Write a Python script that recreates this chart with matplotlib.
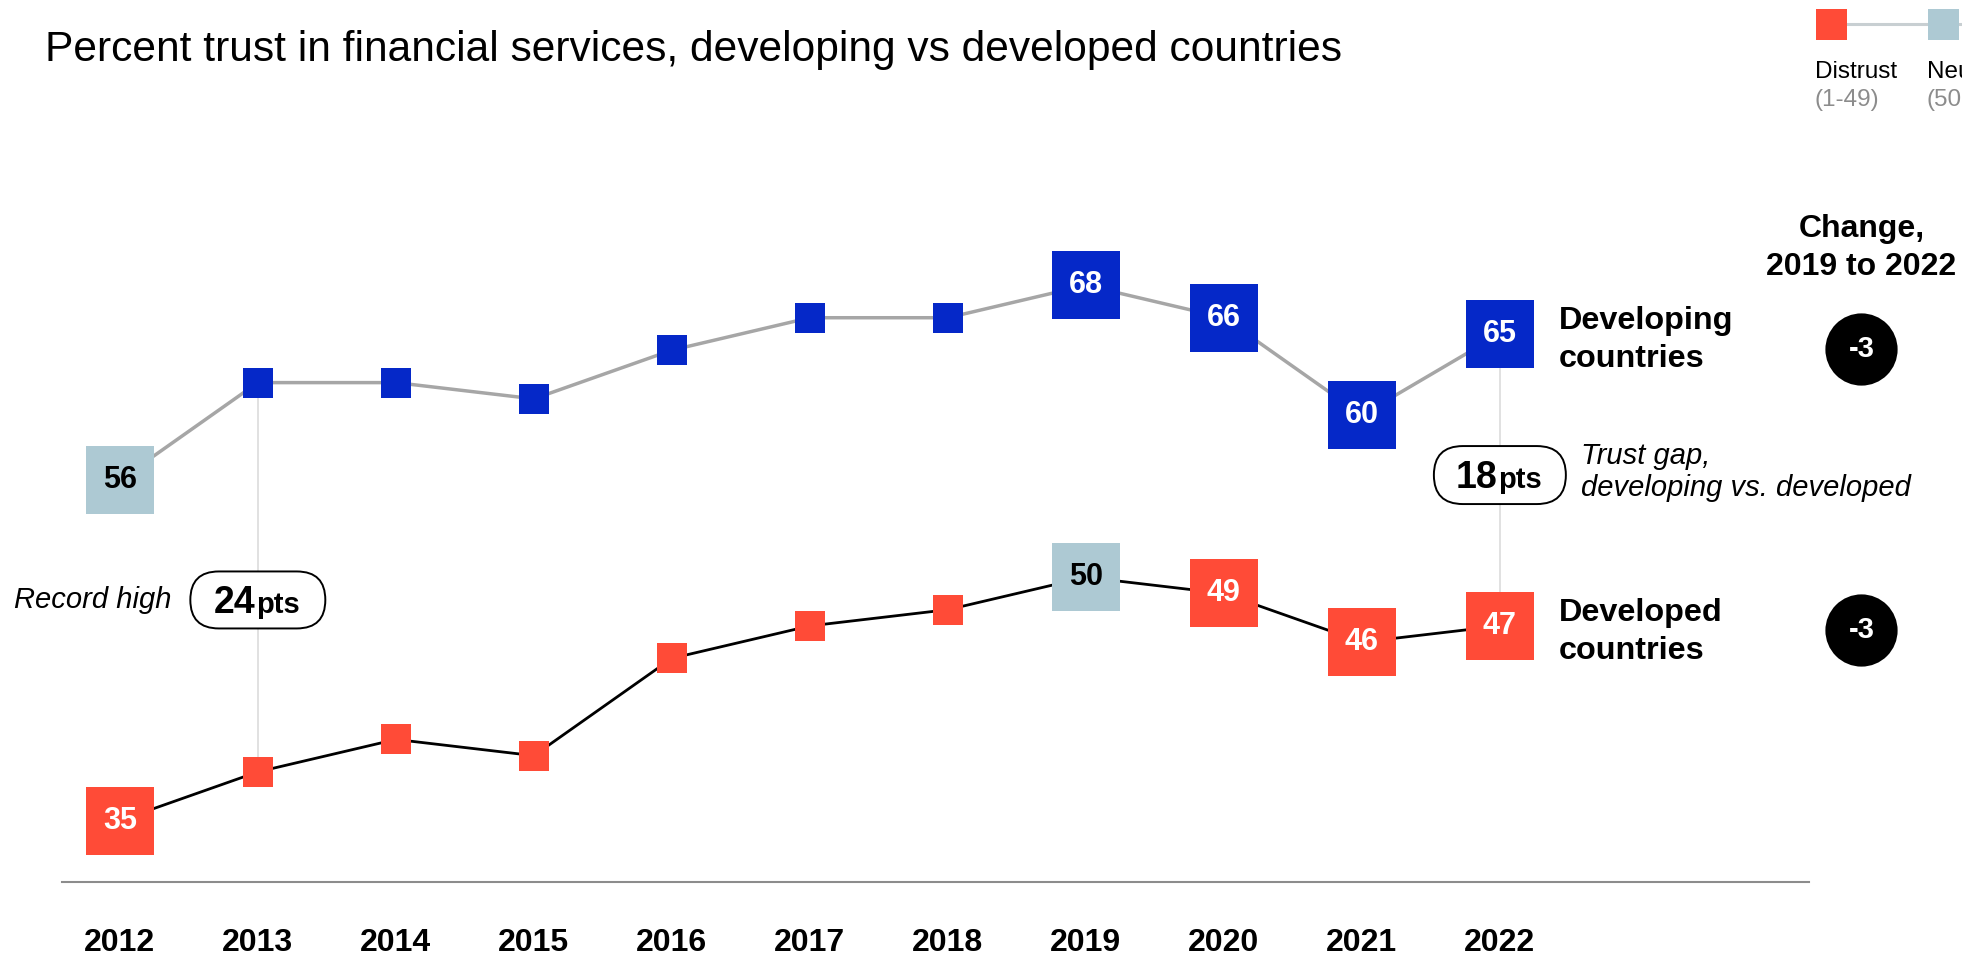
import matplotlib.pyplot as plt
from matplotlib.patches import FancyBboxPatch
from matplotlib.transforms import ScaledTranslation

plt.rcParams["font.family"] = ["Liberation Sans", "DejaVu Sans"]

# --- data -----------------------------------------------------------------
years = [2012, 2013, 2014, 2015, 2016, 2017, 2018, 2019, 2020, 2021, 2022]
developing = [56, 62, 62, 61, 64, 66, 66, 68, 66, 60, 65]
developed = [35, 38, 40, 39, 45, 47, 48, 50, 49, 46, 47]
labeled_years = [2012, 2019, 2020, 2021, 2022]
gap_years = [2013, 2022]
gap_notes = ["Record high", "Trust gap,\ndeveloping vs. developed"]
series_names = ["Developing\ncountries", "Developed\ncountries"]
change_from, change_to = 2019, 2022
legend_labels = ["Distrust", "Neutral"]
legend_ranges = ["(1-49)", "(50-59)"]
title = "Percent trust in financial services, developing vs developed countries"

DISTRUST = "#ff4b37"
NEUTRAL = "#adc9d3"
TRUST = "#0528c8"

W, H, DPI = 1962, 957, 100


def band_color(v):
    if v < 50:
        return DISTRUST
    if v < 60:
        return NEUTRAL
    return TRUST


def pill(fig, ax, x, y, big, small, w, h):
    trans = fig.dpi_scale_trans + ScaledTranslation(x, y, ax.transData)
    box = FancyBboxPatch(
        (-w / 2 / DPI, -h / 2 / DPI), w / DPI, h / DPI,
        boxstyle="round,pad=0,rounding_size={}".format(h / 2 / DPI),
        transform=trans, facecolor="white", edgecolor="black",
        linewidth=1.4, zorder=5, clip_on=False,
    )
    ax.add_patch(box)
    ax.annotate(big, (x, y), xytext=(-2, -13), textcoords="offset pixels",
                ha="right", va="baseline", fontsize=27, fontweight="bold",
                zorder=6, annotation_clip=False)
    ax.annotate(small, (x, y), xytext=(-2, -13), textcoords="offset pixels",
                ha="left", va="baseline", fontsize=21, fontweight="bold",
                zorder=6, annotation_clip=False)


fig = plt.figure(figsize=(W / DPI, H / DPI), dpi=DPI)

# overlay in pixel coords for title and legend
ov = fig.add_axes([0, 0, 1, 1])
ov.set_xlim(0, W)
ov.set_ylim(H, 0)
ov.axis("off")
ov.patch.set_visible(False)

ax = fig.add_axes([62 / W, (H - 882) / H, (1809 - 62) / W, 882 / H])
ax.patch.set_alpha(0)
for side in ["top", "left", "right"]:
    ax.spines[side].set_visible(False)
ax.spines["bottom"].set_color("#8c8c8c")
ax.spines["bottom"].set_linewidth(1.5)
ax.set_yticks([])
ax.set_xticks(years)
ax.set_xticklabels([str(y) for y in years], fontweight="bold")
ax.tick_params(axis="x", length=0, pad=33.3, labelsize=23)

# gap guides
for gy in gap_years:
    i = years.index(gy)
    ax.vlines(gy, developed[i], developing[i], color="#d9d9d9", linewidth=1.1, zorder=1)

ax.plot(years, developing, color="#a6a6a6", linewidth=2.5, zorder=2)
ax.plot(years, developed, color="black", linewidth=2.0, zorder=2)

for values in (developing, developed):
    for yr, v in zip(years, values):
        big = yr in labeled_years
        size = 49.5 if big else 21.6
        ax.scatter([yr], [v], marker="s", s=size ** 2, color=band_color(v),
                   linewidths=0, zorder=3, clip_on=False)
        if big:
            ax.text(yr, v, str(v), ha="center", va="center", fontsize=22,
                    fontweight="bold", zorder=4,
                    color="black" if band_color(v) == NEUTRAL else "white")

# gap pills
i0 = years.index(gap_years[0])
i1 = years.index(gap_years[1])
gap0 = developing[i0] - developed[i0]
gap1 = developing[i1] - developed[i1]
pill(fig, ax, gap_years[0], 48.6, str(gap0), "pts", 135, 57)
pill(fig, ax, gap_years[1], 56.3, str(gap1), "pts", 132, 58)
ax.annotate(gap_notes[0], (gap_years[0], 48.6), xytext=(-86, 0),
            textcoords="offset pixels", ha="right", va="center",
            fontsize=21, style="italic", annotation_clip=False)
ax.annotate(gap_notes[1], (gap_years[1], 56.3), xytext=(81, 3),
            textcoords="offset pixels", ha="left", va="center",
            fontsize=21, style="italic", linespacing=1.2,
            annotation_clip=False)

# series names and change circles
x_change = 2024.62
circle_shift = [0.95, 0.25]
ax.text(x_change, 70.3, "Change,\n{} to {}".format(change_from, change_to),
        ha="center", va="center", fontsize=23, fontweight="bold",
        linespacing=1.32)
for name, values, shift in zip(series_names, (developing, developed), circle_shift):
    last = values[years.index(change_to)]
    change = last - values[years.index(change_from)]
    ax.annotate(name, (change_to, last), xytext=(59, -6),
                textcoords="offset pixels", ha="left", va="center",
                fontsize=23.3, fontweight="bold", linespacing=1.32,
                annotation_clip=False)
    ax.scatter([x_change], [last - shift], s=52 ** 2, color="black",
               linewidths=0, zorder=3, clip_on=False)
    ax.text(x_change, last - shift, "{:d}".format(change), ha="center",
            va="center", fontsize=21, fontweight="bold", color="white", zorder=4)

ax.set_xlim(2011.581, 2024.240)
ax.set_ylim(31.21, 85.59)

# title
ov.text(45, 50, title, ha="left", va="center", fontsize=30.6)

# legend (runs off the right edge like the original)
ov.plot([1846, W + 20], [23.5, 23.5], color="#c8cfd2", linewidth=2.2, clip_on=False)
leg_x = [1830.5, 1942.5]
for lx, col, lab, rng in zip(leg_x, [DISTRUST, NEUTRAL], legend_labels, legend_ranges):
    ov.scatter([lx], [23.5], marker="s", s=(31 * 0.72) ** 2, color=col,
               linewidths=0, zorder=3, clip_on=False)
    ov.text(lx - 15.5, 72, lab, ha="left", va="center", fontsize=17.5)
    ov.text(lx - 15.5, 100, rng, ha="left", va="center", fontsize=17.5, color="#8c8c8c")

fig.savefig("out.png", dpi=DPI)
